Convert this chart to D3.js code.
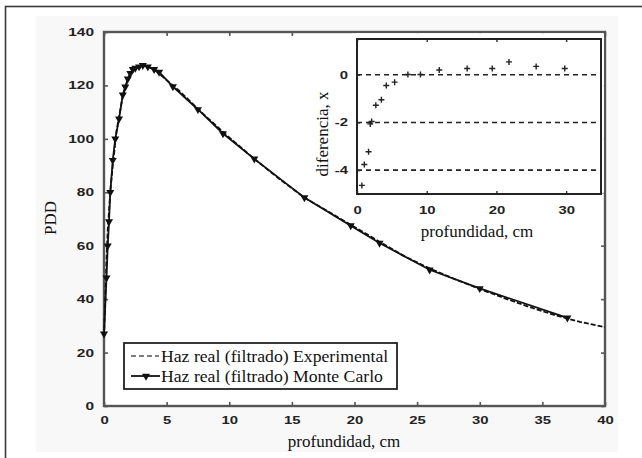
<!DOCTYPE html>
<html>
<head>
<meta charset="utf-8">
<script src="https://cdn.jsdelivr.net/npm/d3@7"></script>
<style>
  html, body { margin: 0; padding: 0; background: #fff; }
  svg { display: block; }
</style>
</head>
<body>
<svg id="chart" width="642" height="458"></svg>
<script>
// Depth-dose curve: Monte Carlo points (markers) and measured profile (dashed)
const mcDepth = [0, 0.2, 0.3, 0.4, 0.5, 0.7, 0.9, 1.2, 1.5, 1.7, 1.9, 2.1, 2.3, 2.5, 2.8, 3.1, 3.5, 4.0, 4.4, 5.5, 7.5, 9.5, 12, 16, 19.7, 22, 26, 30, 37];
const mcPDD   = [27, 48, 60, 69, 80, 92, 100, 107.5, 116.5, 119.5, 122.5, 124.5, 126, 126.5, 127, 127.5, 127, 126, 125, 119.6, 111, 102, 92.5, 78, 67.5, 61, 51, 44, 33];

const expDepth = [0, 0.1, 0.2, 0.3, 0.5, 0.7, 1.0, 1.5, 2.0, 2.5, 3.0, 3.5, 4.0, 5.0, 6.0, 8.0, 10, 12, 14, 16, 18, 20, 22, 24, 26, 28, 30, 32, 34, 36, 38, 40];
const expPDD   = [26, 40, 55, 66, 80, 90, 103, 116, 123.5, 126.5, 127.5, 127, 126, 122, 118, 109, 100.5, 92.5, 85, 78, 72.5, 67, 61.5, 56, 51.5, 47.5, 43.8, 40.3, 37, 34, 31.5, 29.5];

// Difference between the two profiles (inset)
const diffDepth = [0.7, 1.05, 1.66, 1.9, 2.1, 2.7, 3.5, 4.2, 5.4, 7.3, 9.1, 11.8, 15.8, 19.4, 21.8, 25.7, 29.8];
const diffValue = [-4.64, -3.76, -3.23, -2.06, -1.96, -1.28, -1.05, -0.45, -0.31, 0.01, 0.01, 0.2, 0.26, 0.26, 0.54, 0.35, 0.26];

const xTicks = [0, 5, 10, 15, 20, 25, 30, 35, 40];
const yTicks = [0, 20, 40, 60, 80, 100, 120, 140];
const insetXTicks = [0, 10, 20, 30];
const insetYTicks = [0, -2, -4];
const insetRefLines = [0, -2, -4];

const legendLabels = ["Haz real (filtrado) Experimental", "Haz real (filtrado) Monte Carlo"];

const svg = d3.select("#chart");
const serif = "'Liberation Serif', 'Times New Roman', serif";
const sans = "'Liberation Sans', Arial, sans-serif";
const plain = d => String(d);

function stretch(sel, k) {
  sel.each(function () {
    const L = this.getComputedTextLength();
    this.setAttribute("textLength", L * k);
    this.setAttribute("lengthAdjust", "spacingAndGlyphs");
  });
}

// Figure panel
svg.append("rect").attr("x", 36).attr("y", 16).attr("width", 582).attr("height", 436).attr("fill", "#f8f8f8");
svg.append("rect").attr("x", 5.5).attr("y", 6.5).attr("width", 660).attr("height", 470)
  .attr("fill", "none").attr("stroke", "#3a3a3a").attr("stroke-width", 1.6);

// Main axes
const M = { left: 104, right: 605, top: 32, bottom: 406 };
const x = d3.scaleLinear().domain([0, 40]).range([M.left, M.right]);
const y = d3.scaleLinear().domain([0, 140]).range([M.bottom, M.top]);

const main = svg.append("g");
main.append("rect").attr("x", M.left).attr("y", M.top).attr("width", M.right - M.left).attr("height", M.bottom - M.top)
  .attr("fill", "#fff");

const axisColor = "#555";
const tickLen = 4;
const axB = main.append("g").attr("transform", `translate(0,${M.bottom})`)
  .call(d3.axisBottom(x).tickValues(xTicks).tickFormat(plain).tickSizeInner(-tickLen).tickSizeOuter(0).tickPadding(10));
const axT = main.append("g").attr("transform", `translate(0,${M.top})`)
  .call(d3.axisTop(x).tickValues(xTicks).tickSizeInner(-tickLen).tickSizeOuter(0).tickFormat(""));
const axL = main.append("g").attr("transform", `translate(${M.left},0)`)
  .call(d3.axisLeft(y).tickValues(yTicks).tickFormat(plain).tickSizeInner(-tickLen).tickSizeOuter(0).tickPadding(10));
const axR = main.append("g").attr("transform", `translate(${M.right},0)`)
  .call(d3.axisRight(y).tickValues(yTicks).tickSizeInner(-tickLen).tickSizeOuter(0).tickFormat(""));
[axB, axT, axL, axR].forEach(a => {
  a.select(".domain").remove();
  a.selectAll(".tick line").attr("stroke", axisColor).attr("stroke-width", 1.6);
  a.selectAll("text").attr("font-family", sans).attr("font-weight", "bold").attr("font-size", 11).attr("fill", "#222");
});
stretch(axB.selectAll("text"), 1.35);
stretch(axL.selectAll("text"), 1.4);
main.append("rect").attr("x", M.left).attr("y", M.top).attr("width", M.right - M.left).attr("height", M.bottom - M.top)
  .attr("fill", "none").attr("stroke", axisColor).attr("stroke-width", 2.4);

// Curves
const lineMC = d3.line().x((d, i) => x(mcDepth[i])).y(d => y(d));
const lineExp = d3.line().x((d, i) => x(expDepth[i])).y(d => y(d));
main.append("path").datum(expPDD).attr("d", lineExp).attr("fill", "none")
  .attr("stroke", "#111").attr("stroke-width", 1.8).attr("stroke-dasharray", "5,2");
main.append("path").datum(mcPDD).attr("d", lineMC).attr("fill", "none")
  .attr("stroke", "#111").attr("stroke-width", 1.8);
const tri = d3.symbol().type(d3.symbolTriangle).size(28);
main.selectAll(".mk").data(mcPDD).join("path")
  .attr("d", tri)
  .attr("transform", (d, i) => `translate(${x(mcDepth[i])},${y(d)}) rotate(180)`)
  .attr("fill", "#111");

// Axis titles
svg.append("text").attr("x", 344).attr("y", 447).attr("text-anchor", "middle")
  .attr("font-family", serif).attr("font-size", 17).attr("fill", "#111").text("profundidad, cm");
svg.append("text").attr("transform", "translate(56,218) rotate(-90)").attr("text-anchor", "middle")
  .attr("font-family", serif).attr("font-size", 17).attr("fill", "#111").text("PDD");

// Legend
const lg = svg.append("g");
lg.append("rect").attr("x", 124).attr("y", 343).attr("width", 273).attr("height", 46)
  .attr("fill", "#fff").attr("stroke", "#222").attr("stroke-width", 1.8);
const rows = [356, 376];
lg.append("line").attr("x1", 131).attr("x2", 159).attr("y1", rows[0]).attr("y2", rows[0])
  .attr("stroke", "#555").attr("stroke-width", 1.6).attr("stroke-dasharray", "5,3");
lg.append("line").attr("x1", 131).attr("x2", 160).attr("y1", rows[1]).attr("y2", rows[1])
  .attr("stroke", "#111").attr("stroke-width", 1.8);
lg.append("path").attr("d", tri).attr("transform", `translate(146,${rows[1]}) rotate(180)`).attr("fill", "#111");
const lt = lg.selectAll(".lt").data(legendLabels).join("text")
  .attr("x", 161).attr("y", (d, i) => rows[i] + 5.5)
  .attr("font-family", serif).attr("font-size", 17).attr("fill", "#111").text(d => d);
stretch(lt, 1.04);

// Inset: difference between profiles
const I = { left: 357, right: 601, top: 39, bottom: 194 };
const xi = d3.scaleLinear().domain([0, 35]).range([I.left, I.right]);
const yi = d3.scaleLinear().domain([-5, 1.5]).range([I.bottom, I.top]);
const inset = svg.append("g");
inset.append("rect").attr("x", 352).attr("y", M.top + 1.2).attr("width", M.right - 352 - 1.2).attr("height", 160)
  .attr("fill", "#fff");
inset.append("rect").attr("x", I.left).attr("y", I.top).attr("width", I.right - I.left).attr("height", I.bottom - I.top)
  .attr("fill", "#fff");
inset.selectAll(".ref").data(insetRefLines).join("line")
  .attr("x1", I.left).attr("x2", I.right).attr("y1", d => yi(d)).attr("y2", d => yi(d))
  .attr("stroke", "#222").attr("stroke-width", 1.6).attr("stroke-dasharray", "5,4");
const iB = inset.append("g").attr("transform", `translate(0,${I.bottom})`)
  .call(d3.axisBottom(xi).tickValues(insetXTicks).tickFormat(plain).tickSizeInner(-3).tickSizeOuter(0).tickPadding(12));
const iT = inset.append("g").attr("transform", `translate(0,${I.top})`)
  .call(d3.axisTop(xi).tickValues(insetXTicks).tickSizeInner(-3).tickSizeOuter(0).tickFormat(""));
const iL = inset.append("g").attr("transform", `translate(${I.left},0)`)
  .call(d3.axisLeft(yi).tickValues(insetYTicks).tickFormat(plain).tickSizeInner(-3).tickSizeOuter(0).tickPadding(9));
[iB, iT, iL].forEach(a => {
  a.select(".domain").remove();
  a.selectAll(".tick line").attr("stroke", "#333").attr("stroke-width", 1.4);
  a.selectAll("text").attr("font-family", sans).attr("font-weight", "bold").attr("font-size", 11).attr("fill", "#222");
});
stretch(iB.selectAll("text"), 1.35);
stretch(iL.selectAll("text"), 1.35);
inset.append("rect").attr("x", I.left).attr("y", I.top).attr("width", I.right - I.left).attr("height", I.bottom - I.top)
  .attr("fill", "none").attr("stroke", "#222").attr("stroke-width", 2);
inset.selectAll(".pt").data(diffValue).join("path")
  .attr("d", "M-3,0H3M0,-3V3")
  .attr("transform", (d, i) => `translate(${xi(diffDepth[i])},${yi(d)})`)
  .attr("stroke", "#222").attr("stroke-width", 1.4).attr("fill", "none");
svg.append("text").attr("x", 477).attr("y", 237).attr("text-anchor", "middle")
  .attr("font-family", serif).attr("font-size", 17).attr("fill", "#111").text("profundidad, cm");
svg.append("text").attr("transform", "translate(328,134) rotate(-90)").attr("text-anchor", "middle")
  .attr("font-family", serif).attr("font-size", 17).attr("fill", "#111").text("diferencia, x");
</script>
</body>
</html>
